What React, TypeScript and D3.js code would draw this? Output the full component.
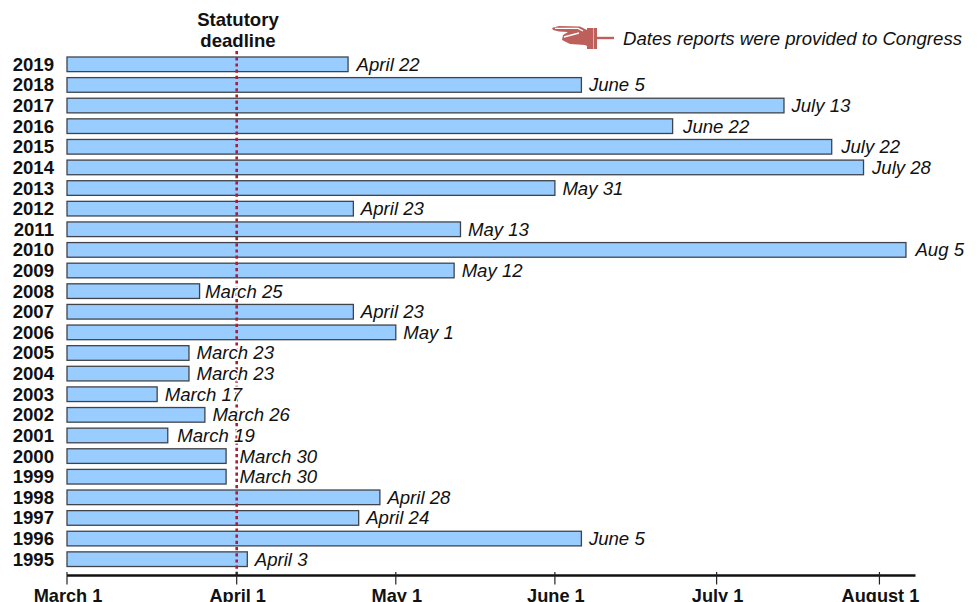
import React, { useEffect, useRef } from "react";
import * as d3 from "d3";

const width = 978;
const height = 602;

const years = [
  "2019", "2018", "2017", "2016", "2015", "2014", "2013", "2012", "2011", "2010", "2009", "2008", "2007",
  "2006", "2005", "2004", "2003", "2002", "2001", "2000", "1999", "1998", "1997", "1996", "1995",
];
const dateLabels = [
  "April 22", "June 5", "July 13", "June 22", "July 22", "July 28", "May 31", "April 23", "May 13", "Aug 5",
  "May 12", "March 25", "April 23", "May 1", "March 23", "March 23", "March 17", "March 26", "March 19",
  "March 30", "March 30", "April 28", "April 24", "June 5", "April 3",
];
// days counted on the chart's own axis
const reportDays = [
  53.0, 97.0, 135.2, 114.2, 144.2, 150.2, 92.0, 54.0, 74.2, 158.2, 73.0, 25.0, 54.0, 62.0, 23.0, 23.0, 17.0,
  26.0, 19.0, 30.0, 30.0, 59.0, 55.0, 97.0, 34.0,
];
const tickDays = [0, 32, 62, 92, 122.5, 153.2];
const tickLabels = ["March 1", "April 1", "May 1", "June 1", "July 1", "August 1"];
const deadlineDay = 32;
const noteText = "Dates reports were provided to Congress";

const colors = {
  bar: "#99ccff",
  barStroke: "#40444a",
  deadline: "#a81e3c",
  hand: "#bd5f5b",
  text: "#111111",
};
const font = "'Liberation Sans', Arial, sans-serif";

// labels were nudged by hand in the original
const labelNudge: Record<string, number> = {
  "2016": 3, "2015": 2, "2014": 1, "2010": 2, "2008": -2, "2001": 2, "2000": 6, "1999": 6, "2019": 1,
};

export default function App() {
  const svgRef = useRef<SVGSVGElement>(null);

  useEffect(() => {
    if (!svgRef.current) return;
    const svg = d3.select(svgRef.current);
    svg.selectAll("*").remove();

    const x = d3.scaleLinear().domain([0, 160]).range([67, 915.5]);
    const y = d3.scaleBand<string>().domain(years).range([54, 569.5]).paddingInner(0.29).paddingOuter(0.145);

    // deadline goes first so the label backgrounds can break it up
    const bars = svg.append("g");
    bars
      .selectAll("rect")
      .data(years)
      .enter()
      .append("rect")
      .attr("x", x(0))
      .attr("y", (d) => y(d)!)
      .attr("width", (_, i) => x(reportDays[i]) - x(0))
      .attr("height", y.bandwidth())
      .attr("fill", colors.bar)
      .attr("stroke", colors.barStroke)
      .attr("stroke-width", 1.3);

    svg
      .append("line")
      .attr("x1", x(deadlineDay))
      .attr("x2", x(deadlineDay))
      .attr("y1", 51)
      .attr("y2", 575)
      .attr("stroke", colors.deadline)
      .attr("stroke-width", 2.6)
      .attr("stroke-dasharray", "3.2,3");

    svg
      .append("g")
      .selectAll("text")
      .data(dateLabels)
      .enter()
      .append("text")
      .attr("x", (_, i) => x(reportDays[i]) + 7.5 + (labelNudge[years[i]] ?? 0))
      .attr("y", (_, i) => y(years[i])! + y.bandwidth() / 2 + 6.5)
      .attr("fill", colors.text)
      .attr("stroke", "#ffffff")
      .attr("stroke-width", 3)
      .style("paint-order", "stroke")
      .style("font-family", font)
      .style("font-size", "18.6px")
      .style("font-style", "italic")
      .text((d) => d);

    svg
      .append("g")
      .selectAll("text")
      .data(years)
      .enter()
      .append("text")
      .attr("x", 54)
      .attr("y", (d) => y(d)! + y.bandwidth() / 2 + 6.5)
      .attr("text-anchor", "end")
      .attr("fill", colors.text)
      .style("font-family", font)
      .style("font-size", "18.6px")
      .style("font-weight", "bold")
      .text((d) => d);

    const axis = svg.append("g").attr("transform", "translate(0,575.5)");
    axis
      .append("line")
      .attr("x1", x(0))
      .attr("x2", x(160))
      .attr("stroke", "#111111")
      .attr("stroke-width", 2.6);
    axis
      .selectAll("line.tick")
      .data(tickDays)
      .enter()
      .append("line")
      .attr("class", "tick")
      .attr("x1", (d) => x(d))
      .attr("x2", (d) => x(d))
      .attr("y1", -3.5)
      .attr("y2", 9)
      .attr("stroke", "#222222")
      .attr("stroke-width", 1.2);
    axis
      .selectAll("text")
      .data(tickLabels)
      .enter()
      .append("text")
      .attr("x", (_, i) => x(tickDays[i]) + 1)
      .attr("y", 26.5)
      .attr("text-anchor", "middle")
      .attr("fill", colors.text)
      .style("font-family", font)
      .style("font-size", "18.2px")
      .style("font-weight", "bold")
      .text((d) => d);

    const deadlineTitle = svg
      .append("text")
      .attr("text-anchor", "middle")
      .attr("fill", colors.text)
      .style("font-family", font)
      .style("font-size", "18.6px")
      .style("font-weight", "bold");
    deadlineTitle.append("tspan").attr("x", 238).attr("y", 26).text("Statutory");
    deadlineTitle.append("tspan").attr("x", 238).attr("y", 47).text("deadline");

    const hand = svg.append("g").attr("transform", "translate(551,25)");
    hand
      .append("path")
      .attr("d", "M1,3 L8,1 L29,1.5 L36,5 L36,21 L34,20 L19,19 L11,15 L12,10 L17,7 L8,6.5 L2,5 Z")
      .attr("fill", colors.hand);
    hand
      .append("path")
      .attr("d", "M4,3.4 L27,3.4 L32,6 M13,12 L28,8")
      .attr("fill", "none")
      .attr("stroke", "#ffffff")
      .attr("stroke-width", 1.3);
    hand.append("rect").attr("x", 36).attr("y", 3).attr("width", 6.5).attr("height", 21).attr("fill", colors.hand);
    hand.append("rect").attr("x", 43).attr("y", 3).attr("width", 3).attr("height", 21).attr("fill", colors.hand);
    hand.append("rect").attr("x", 46).attr("y", 11.8).attr("width", 17).attr("height", 2.4).attr("fill", colors.hand);

    svg
      .append("text")
      .attr("x", 623)
      .attr("y", 45)
      .attr("fill", colors.text)
      .style("font-family", font)
      .style("font-size", "18.6px")
      .style("font-style", "italic")
      .text(noteText);
  }, []);

  return (
    <svg
      ref={svgRef}
      width={width}
      height={height}
      viewBox={`0 0 ${width} ${height}`}
      style={{ position: "absolute", left: 0, top: 0, background: "#ffffff" }}
    />
  );
}
